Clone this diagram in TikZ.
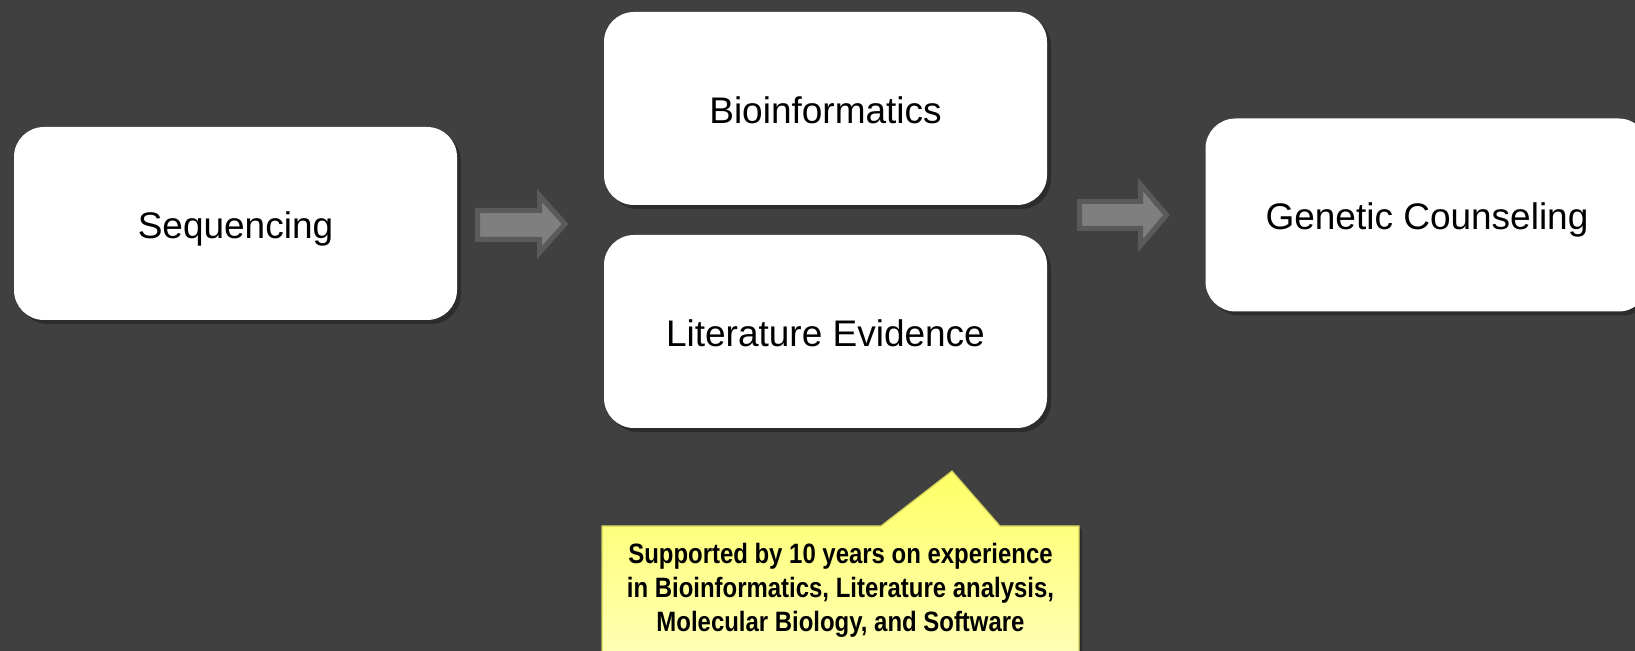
\documentclass[tikz,border=0pt]{standalone}
\usepackage{fontspec}
\setmainfont{Liberation Sans}
\newfontfamily\narrowfont[FakeStretch=0.855]{Liberation Sans}
\usetikzlibrary{shadows}
\definecolor{bg}{HTML}{404040}
\definecolor{arrowfill}{HTML}{7F7F7F}
\definecolor{arrowborder}{HTML}{5A5A5A}
\definecolor{noteTop}{HTML}{FFFF66}
\definecolor{noteBottom}{HTML}{FFFFB8}
\definecolor{noteBorder}{HTML}{CFCF5A}
\begin{document}
\begin{tikzpicture}[x=0.5pt,y=-0.5pt,
  box/.style={fill=white, rounded corners=15pt, minimum width=221.5pt,
    minimum height=96.5pt, inner sep=0pt, text height=14.6pt, text depth=0pt,
    font=\fontsize{18.5}{22}\selectfont,
    drop shadow={shadow xshift=2pt, shadow yshift=-2pt, opacity=0.3, fill=black}},
  blockarrow/.style={fill=arrowfill, draw=arrowborder, line width=2.5pt, line join=miter},
  note/.style={shade, top color=noteTop, bottom color=noteBottom, draw=noteBorder, line width=0.6pt,
    drop shadow={shadow xshift=1.5pt, shadow yshift=-1.5pt, opacity=0.3, fill=black}},
  notetext/.style={align=center, inner sep=0pt, font=\narrowfont\bfseries\fontsize{14}{17}\selectfont}
]
\clip (0,0) rectangle (1635,651);
\fill[bg] (0,0) rectangle (1635,651);

\node[box] (seq) at (235.5,223.5) {Sequencing};
\node[box] (bio) at (825.5,108.5) {Bioinformatics};
\node[box] (lit) at (825.5,331.5) {Literature Evidence};
\node[box] (gen) at (1427,215) {Genetic Counseling};

% block arrows
\draw[blockarrow] (477.5,210.5) -- (539.5,210.5) -- (539.5,195.5) -- (565,224)
  -- (539.5,252.5) -- (539.5,239.5) -- (477.5,239.5) -- cycle;
\draw[blockarrow] (1079.5,201.5) -- (1140.5,201.5) -- (1140.5,184.5) -- (1166.5,215)
  -- (1140.5,245.5) -- (1140.5,228.5) -- (1079.5,228.5) -- cycle;

% callout
\path[note] (602,526) -- (881,526) -- (952,471) -- (1000,526) -- (1079,526)
  -- (1079,662) -- (602,662) -- cycle;
\node[notetext] (notetxt) at (840.5,590) {Supported by 10 years on experience\\in Bioinformatics, Literature analysis,\\Molecular Biology, and Software};
\end{tikzpicture}
\end{document}
